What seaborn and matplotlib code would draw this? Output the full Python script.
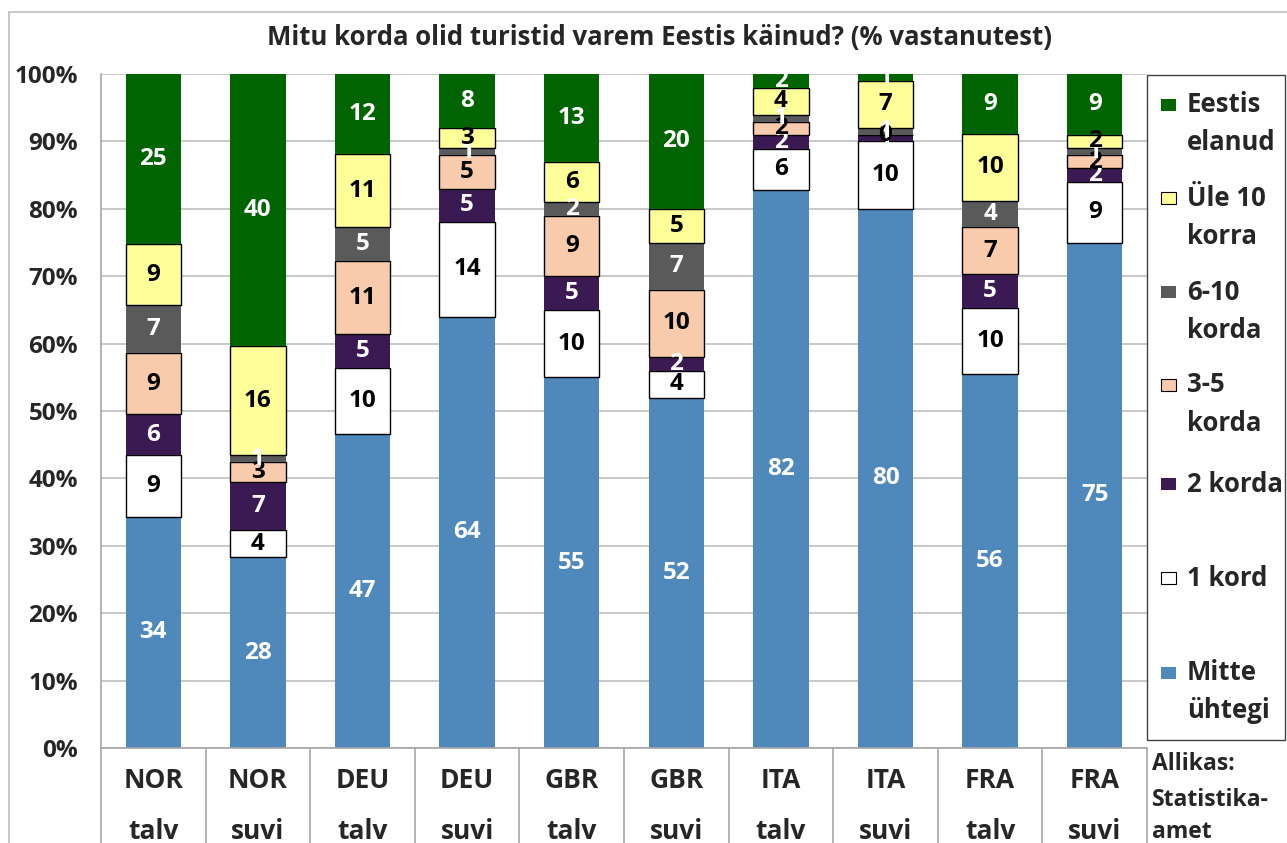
import numpy as np
import matplotlib.pyplot as plt
import matplotlib.patches as mpatches
from matplotlib.lines import Line2D
import seaborn as sns

# Data (raw values, shown as labels; bars are scaled to 100%)
groups = ["NOR", "NOR", "DEU", "DEU", "GBR", "GBR", "ITA", "ITA", "FRA", "FRA"]
seasons = ["talv", "suvi", "talv", "suvi", "talv", "suvi", "talv", "suvi", "talv", "suvi"]
mitte = [34, 28, 47, 64, 55, 52, 82, 80, 56, 75]
kord1 = [9, 4, 10, 14, 10, 4, 6, 10, 10, 9]
korda2 = [6, 7, 5, 5, 5, 2, 2, 1, 5, 2]
korda3_5 = [9, 3, 11, 5, 9, 10, 2, 0, 7, 2]
korda6_10 = [7, 1, 5, 1, 2, 7, 1, 1, 4, 1]
yle10 = [9, 16, 11, 3, 6, 5, 4, 7, 10, 2]
elanud = [25, 40, 12, 8, 13, 20, 2, 1, 9, 9]

series = [
    (mitte, "#4F88BB", "none", "white"),
    (kord1, "#FFFFFF", "black", "black"),
    (korda2, "#3B1952", "none", "white"),
    (korda3_5, "#F8CBAD", "black", "black"),
    (korda6_10, "#5A5A5A", "none", "white"),
    (yle10, "#FFFF99", "black", "black"),
    (elanud, "#006400", "none", "white"),
]

legend_items = [
    ("Eestis", "elanud", "#006400", "none", 105),
    ("Üle 10", "korra", "#FFFF99", "black", 198),
    ("6-10", "korda", "#5A5A5A", "none", 292),
    ("3-5", "korda", "#F8CBAD", "black", 385),
    ("2 korda", "", "#3B1952", "none", 484),
    ("1 kord", "", "#FFFFFF", "black", 578),
    ("Mitte", "ühtegi", "#4F88BB", "none", 673),
]

sns.set_style("white")
plt.rcParams['font.family'] = ['Open Sans', 'DejaVu Sans']
plt.rcParams['font.weight'] = 'bold'

W, H = 1287, 843
fig = plt.figure(figsize=(W / 100, H / 100), dpi=100)
ax = fig.add_axes([101 / W, 95 / H, 1046 / W, 674 / H])

cats = [g + " " + s for g, s in zip(groups, seasons)]
totals = np.sum([s[0] for s in series], axis=0)
bottom = np.zeros(len(cats))
for vals, color, edge, tcol in series:
    pct = np.array(vals) / totals * 100
    sns.barplot(x=cats, y=pct, bottom=bottom, color=color, saturation=1,
                width=0.53, edgecolor=edge, linewidth=1.0, ax=ax)
    for i, (p, v) in enumerate(zip(pct, vals)):
        ax.text(i, bottom[i] + p / 2, str(v), ha='center', va='center',
                color=tcol, fontsize=17.5, fontweight='bold')
    bottom += pct

ax.set_ylim(0, 100)
ax.set_xlim(-0.5, 9.5)
ax.set_yticks(range(0, 101, 10))
ax.set_yticklabels([f"{v}%" for v in range(0, 101, 10)], fontsize=17.5, fontweight='bold')
ax.set_xticks([])
ax.set_xlabel("")
ax.set_ylabel("")
ax.tick_params(axis='y', length=6.5, color='#A6A6A6', pad=10)
ax.yaxis.grid(True, color='#BFBFBF', lw=1.2)
ax.set_axisbelow(True)
for sp in ['top', 'right']:
    ax.spines[sp].set_visible(False)
for sp in ['left', 'bottom']:
    ax.spines[sp].set_color('#A6A6A6')
    ax.spines[sp].set_linewidth(1.2)

# category separators and two-line labels
ax.vlines(np.arange(-0.5, 10, 1), -0.15, 0, transform=ax.get_xaxis_transform(),
          clip_on=False, color='#A6A6A6', lw=1.2)
for i, (g, s) in enumerate(zip(groups, seasons)):
    ax.text(i, -0.0475, g, transform=ax.get_xaxis_transform(), ha='center',
            va='center', fontsize=19, fontweight='bold')
    ax.text(i, -0.1246, s, transform=ax.get_xaxis_transform(), ha='center',
            va='center', fontsize=19, fontweight='bold')

# outer frame
fig.add_artist(Line2D([9 / W, 9 / W], [0, 1 - 12 / H], color='#BEBEBE', lw=1.2))
fig.add_artist(Line2D([9 / W, 1], [1 - 12 / H, 1 - 12 / H], color='#BEBEBE', lw=1.2))

fig.text(660 / W, 1 - 37 / H, "Mitu korda olid turistid varem Eestis käinud? (% vastanutest)",
         ha='center', va='center', fontsize=18.5, fontweight='bold')

# legend
fig.add_artist(mpatches.Rectangle((1147 / W, 1 - 740 / H), (1285 - 1147) / W, (740 - 75) / H,
                                  transform=fig.transFigure, fill=False,
                                  edgecolor='#404040', lw=1.0))
for line1, line2, color, edge, y in legend_items:
    fig.add_artist(mpatches.Rectangle((1161 / W, 1 - (y + 6) / H), 15 / W, 12 / H,
                                      transform=fig.transFigure, facecolor=color,
                                      edgecolor=edge, lw=0.8))
    fig.text(1187 / W, 1 - y / H, line1, ha='left', va='center', fontsize=18.5, fontweight='bold')
    if line2:
        fig.text(1187 / W, 1 - (y + 38) / H, line2, ha='left', va='center',
                 fontsize=18.5, fontweight='bold')

for txt, y in [("Allikas:", 764), ("Statistika-", 800), ("amet", 832)]:
    fig.text(1152 / W, 1 - y / H, txt, ha='left', va='center', fontsize=16.5, fontweight='bold')

fig.savefig('out.png', dpi=100)
